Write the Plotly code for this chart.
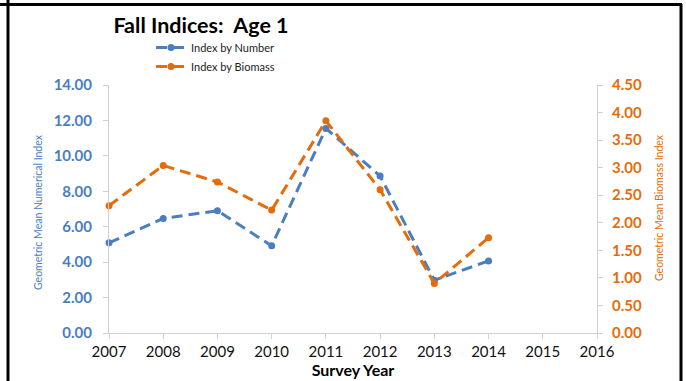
import plotly.graph_objects as go

# Survey data
years = [2007, 2008, 2009, 2010, 2011, 2012, 2013, 2014]
index_by_number = [5.09, 6.47, 6.90, 4.92, 11.55, 8.86, 2.98, 4.07]
index_by_biomass = [2.31, 3.04, 2.74, 2.23, 3.85, 2.60, 0.90, 1.73]

x_ticks = [2007, 2008, 2009, 2010, 2011, 2012, 2013, 2014, 2015, 2016]

BLUE = '#4a7ebf'
ORANGE = '#e46c0a'
AXIS_GRAY = '#d0d0d0'
FONT = 'Lato'

W, H = 686, 381
L, R, T, B = 109, 89, 85, 48

def px_x(px):
    return (px - L) / (W - L - R)

def px_y(py):
    return (H - B - py) / (H - T - B)

fig = go.Figure()
fig.add_trace(go.Scatter(
    x=years, y=index_by_number, name='Index by Number',
    mode='lines+markers', cliponaxis=False,
    line=dict(color=BLUE, width=3, dash='11px,6px'),
    marker=dict(color=BLUE, size=7)
))
fig.add_trace(go.Scatter(
    x=years, y=index_by_biomass, name='Index by Biomass', yaxis='y2',
    mode='lines+markers', cliponaxis=False,
    line=dict(color=ORANGE, width=3, dash='11px,6px'),
    marker=dict(color=ORANGE, size=7)
))

# black frame lines from the original screenshot
frame = dict(type='line', xref='paper', yref='paper', line=dict(color='black', width=3))
fig.add_shape(x0=px_x(0), x1=px_x(682), y0=px_y(4.5), y1=px_y(4.5), **frame)
fig.add_shape(x0=px_x(8), x1=px_x(8), y0=px_y(0), y1=px_y(H), **frame)
fig.add_shape(x0=px_x(681), x1=px_x(681), y0=px_y(4), y1=px_y(H), **frame)

fig.add_annotation(text='Geometric Mean Numerical Index', xref='paper', yref='paper',
                   x=px_x(30), y=px_y(212), textangle=-90, showarrow=False,
                   font=dict(family=FONT, size=10.5, color=BLUE))
fig.add_annotation(text='Geometric Mean Biomass Index', xref='paper', yref='paper',
                   x=px_x(667), y=px_y(208), textangle=-90, showarrow=False,
                   font=dict(family=FONT, size=10.5, color=ORANGE))

fig.update_layout(
    width=W, height=H,
    margin=dict(l=L, r=R, t=T, b=B, autoexpand=False),
    paper_bgcolor='white', plot_bgcolor='white',
    font=dict(family=FONT, color='black'),
    title=dict(text='<b>Fall Indices:  Age 1</b>', x=201 / W, y=1 - 25 / H,
               xanchor='center', yanchor='middle',
               font=dict(family=FONT, size=21.5, color='black')),
    legend=dict(x=px_x(151), y=px_y(33), xanchor='left', yanchor='top',
                font=dict(family=FONT, size=11, color='#222222'),
                bgcolor='rgba(0,0,0,0)', tracegroupgap=0),
    xaxis=dict(range=[2007, 2016], tickvals=x_ticks, showgrid=False, zeroline=False,
               showline=True, linecolor=AXIS_GRAY, linewidth=1,
               ticks='outside', ticklen=5, tickcolor=AXIS_GRAY,
               tickfont=dict(family=FONT, size=15, color='#111111'),
               title=dict(text='<b>Survey Year</b>', standoff=4,
                          font=dict(family=FONT, size=16, color='black'))),
    yaxis=dict(range=[0, 14], dtick=2, tickformat='.2f', showgrid=False, zeroline=False,
               showline=True, linecolor=AXIS_GRAY, linewidth=1,
               ticks='outside', ticklen=5, tickcolor=AXIS_GRAY, ticklabelstandoff=8,
               tickfont=dict(family=FONT, size=15, color=BLUE, weight='bold')),
    yaxis2=dict(range=[0, 4.5], dtick=0.5, tickformat='.2f', overlaying='y', side='right',
                showgrid=False, zeroline=False,
                showline=True, linecolor=AXIS_GRAY, linewidth=1,
                ticks='outside', ticklen=5, tickcolor=AXIS_GRAY, ticklabelstandoff=6,
                tickfont=dict(family=FONT, size=15, color=ORANGE, weight='bold')),
)

# drop the default page margin so the figure fills the window
fig.write_html('out.html', config={'displayModeBar': False},
               post_script="document.body.style.margin='0';")
